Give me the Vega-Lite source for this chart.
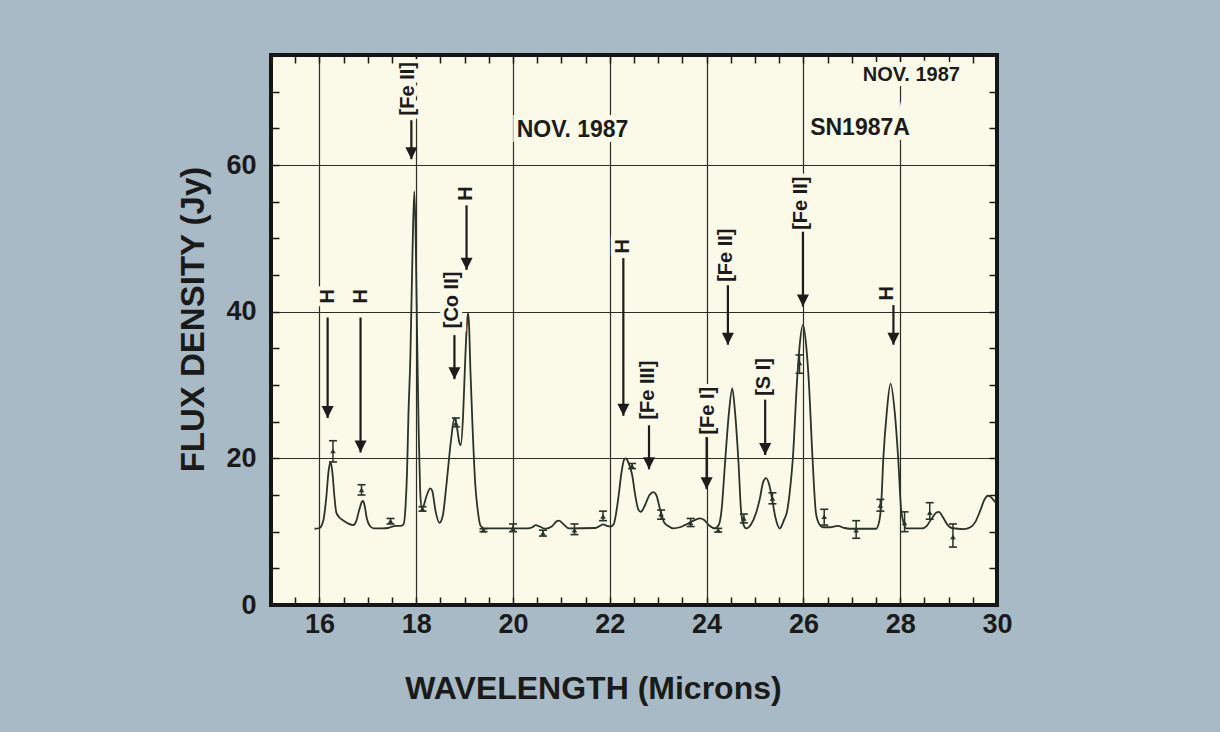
{
  "$schema": "https://vega.github.io/schema/vega-lite/v6.json",
  "autosize": {"type": "none"},
  "width": 726,
  "height": 550,
  "padding": {"left": 271, "top": 55, "right": 223, "bottom": 127},
  "background": "#a8bac6",
  "config": {
    "view": {"fill": "#fbf9e8", "stroke": "#151515", "strokeWidth": 4},
    "font": "Liberation Sans"
  },
  "datasets": {
    "spectrum": [
      {"w": 15.90, "f": 10.4}, {"w": 16.00, "f": 10.5}, {"w": 16.08, "f": 11.5}, {"w": 16.14, "f": 14.5},
      {"w": 16.19, "f": 18.3}, {"w": 16.23, "f": 19.5}, {"w": 16.27, "f": 18.0}, {"w": 16.31, "f": 14.8},
      {"w": 16.35, "f": 12.6}, {"w": 16.42, "f": 11.9}, {"w": 16.50, "f": 11.5}, {"w": 16.60, "f": 11.1},
      {"w": 16.70, "f": 10.9}, {"w": 16.76, "f": 11.4}, {"w": 16.82, "f": 12.9}, {"w": 16.88, "f": 14.1},
      {"w": 16.90, "f": 14.2}, {"w": 16.93, "f": 13.7}, {"w": 16.98, "f": 11.8}, {"w": 17.04, "f": 10.8},
      {"w": 17.12, "f": 10.45}, {"w": 17.30, "f": 10.45}, {"w": 17.42, "f": 10.5}, {"w": 17.50, "f": 10.7},
      {"w": 17.58, "f": 10.8}, {"w": 17.68, "f": 10.8}, {"w": 17.74, "f": 11.0}, {"w": 17.78, "f": 13.5},
      {"w": 17.81, "f": 18}, {"w": 17.84, "f": 26}, {"w": 17.88, "f": 34}, {"w": 17.92, "f": 47},
      {"w": 17.96, "f": 56.4}, {"w": 17.99, "f": 50}, {"w": 18.02, "f": 36}, {"w": 18.05, "f": 24},
      {"w": 18.08, "f": 16}, {"w": 18.11, "f": 13.2}, {"w": 18.15, "f": 13.5}, {"w": 18.22, "f": 15.0},
      {"w": 18.29, "f": 15.9}, {"w": 18.33, "f": 15.6}, {"w": 18.40, "f": 12.8}, {"w": 18.48, "f": 11.2},
      {"w": 18.55, "f": 12.2}, {"w": 18.62, "f": 16.1}, {"w": 18.72, "f": 22.5}, {"w": 18.79, "f": 25.5},
      {"w": 18.84, "f": 24.3}, {"w": 18.89, "f": 22.2}, {"w": 18.92, "f": 21.8}, {"w": 18.97, "f": 26},
      {"w": 19.01, "f": 33}, {"w": 19.05, "f": 38.5}, {"w": 19.07, "f": 39.8}, {"w": 19.09, "f": 38.5},
      {"w": 19.12, "f": 32}, {"w": 19.16, "f": 25}, {"w": 19.22, "f": 16.5}, {"w": 19.27, "f": 13},
      {"w": 19.33, "f": 10.8}, {"w": 19.40, "f": 10.45}, {"w": 20.30, "f": 10.45}, {"w": 20.40, "f": 10.6},
      {"w": 20.47, "f": 10.9}, {"w": 20.55, "f": 10.7}, {"w": 20.67, "f": 10.4}, {"w": 20.80, "f": 10.7},
      {"w": 20.90, "f": 11.4}, {"w": 20.95, "f": 11.5}, {"w": 21.03, "f": 11.1}, {"w": 21.16, "f": 10.45},
      {"w": 21.70, "f": 10.5}, {"w": 21.80, "f": 10.8}, {"w": 21.86, "f": 11.0}, {"w": 21.94, "f": 10.8},
      {"w": 22.02, "f": 10.7}, {"w": 22.08, "f": 11.0}, {"w": 22.13, "f": 12.5}, {"w": 22.18, "f": 14.8},
      {"w": 22.24, "f": 18.0}, {"w": 22.30, "f": 19.9}, {"w": 22.33, "f": 20.0}, {"w": 22.38, "f": 19.5},
      {"w": 22.46, "f": 17.8}, {"w": 22.53, "f": 14.8}, {"w": 22.59, "f": 13.0}, {"w": 22.64, "f": 12.7},
      {"w": 22.72, "f": 13.5}, {"w": 22.82, "f": 15.0}, {"w": 22.90, "f": 15.4}, {"w": 22.96, "f": 15.0},
      {"w": 23.04, "f": 13.0}, {"w": 23.12, "f": 11.3}, {"w": 23.20, "f": 10.8}, {"w": 23.31, "f": 10.45},
      {"w": 23.45, "f": 10.6}, {"w": 23.55, "f": 10.9}, {"w": 23.70, "f": 11.4}, {"w": 23.86, "f": 11.8},
      {"w": 23.95, "f": 11.6}, {"w": 24.06, "f": 10.8}, {"w": 24.17, "f": 10.45}, {"w": 24.25, "f": 10.9},
      {"w": 24.31, "f": 13.0}, {"w": 24.38, "f": 19.3}, {"w": 24.46, "f": 26.1}, {"w": 24.53, "f": 29.55},
      {"w": 24.59, "f": 26.1}, {"w": 24.66, "f": 19.3}, {"w": 24.71, "f": 13.0}, {"w": 24.76, "f": 11.0},
      {"w": 24.82, "f": 10.45}, {"w": 24.92, "f": 11.0}, {"w": 25.02, "f": 12.5}, {"w": 25.10, "f": 14.5},
      {"w": 25.17, "f": 16.8}, {"w": 25.23, "f": 17.3}, {"w": 25.29, "f": 16.5}, {"w": 25.35, "f": 14.6},
      {"w": 25.42, "f": 12.0}, {"w": 25.51, "f": 10.45}, {"w": 25.60, "f": 11.6}, {"w": 25.66, "f": 12.7},
      {"w": 25.72, "f": 15.5}, {"w": 25.78, "f": 19.8}, {"w": 25.87, "f": 30.7}, {"w": 25.92, "f": 35.2},
      {"w": 25.99, "f": 38.2}, {"w": 26.06, "f": 35.2}, {"w": 26.11, "f": 30.7}, {"w": 26.19, "f": 19.8},
      {"w": 26.26, "f": 12.5}, {"w": 26.33, "f": 11.0}, {"w": 26.40, "f": 10.6}, {"w": 26.55, "f": 10.6},
      {"w": 26.71, "f": 10.8}, {"w": 26.85, "f": 10.5}, {"w": 26.96, "f": 10.4}, {"w": 27.50, "f": 10.4},
      {"w": 27.56, "f": 11.2}, {"w": 27.61, "f": 14.0}, {"w": 27.65, "f": 19.8}, {"w": 27.72, "f": 26.1},
      {"w": 27.80, "f": 30.2}, {"w": 27.89, "f": 26.1}, {"w": 27.96, "f": 19.8}, {"w": 28.02, "f": 12.95},
      {"w": 28.08, "f": 11.0}, {"w": 28.12, "f": 10.45}, {"w": 28.45, "f": 10.45}, {"w": 28.55, "f": 10.8},
      {"w": 28.65, "f": 11.8}, {"w": 28.75, "f": 12.6}, {"w": 28.80, "f": 12.7}, {"w": 28.88, "f": 12.0},
      {"w": 28.97, "f": 11.0}, {"w": 29.06, "f": 10.5}, {"w": 29.31, "f": 10.35}, {"w": 29.45, "f": 10.6},
      {"w": 29.55, "f": 11.3}, {"w": 29.65, "f": 12.8}, {"w": 29.75, "f": 14.5}, {"w": 29.81, "f": 14.9},
      {"w": 29.86, "f": 14.8}, {"w": 29.93, "f": 14.3}, {"w": 29.97, "f": 14.0}
    ],
    "measured": [
      {"w": 16.28, "f": 21.0, "lo": 19.5, "hi": 22.4},
      {"w": 16.87, "f": 15.7, "lo": 15.0, "hi": 16.4},
      {"w": 17.47, "f": 11.45, "lo": 11.05, "hi": 11.8},
      {"w": 18.13, "f": 13.1, "lo": 12.8, "hi": 13.4},
      {"w": 18.82, "f": 24.8, "lo": 24.3, "hi": 25.5},
      {"w": 19.39, "f": 10.2, "lo": 10.0, "hi": 10.4},
      {"w": 20.00, "f": 10.45, "lo": 10.0, "hi": 11.05},
      {"w": 20.62, "f": 9.8, "lo": 9.4, "hi": 10.2},
      {"w": 21.27, "f": 10.2, "lo": 9.6, "hi": 11.05},
      {"w": 21.86, "f": 12.1, "lo": 11.5, "hi": 12.8},
      {"w": 22.46, "f": 18.95, "lo": 18.6, "hi": 19.3},
      {"w": 23.06, "f": 12.4, "lo": 11.7, "hi": 12.95},
      {"w": 23.67, "f": 11.2, "lo": 10.7, "hi": 11.8},
      {"w": 24.24, "f": 10.2, "lo": 9.95, "hi": 10.45},
      {"w": 24.77, "f": 11.8, "lo": 11.2, "hi": 12.4},
      {"w": 25.36, "f": 14.55, "lo": 13.8, "hi": 15.3},
      {"w": 25.92, "f": 33.0, "lo": 31.6, "hi": 34.1},
      {"w": 26.43, "f": 12.05, "lo": 10.9, "hi": 13.05},
      {"w": 27.09, "f": 10.2, "lo": 9.1, "hi": 11.5},
      {"w": 27.59, "f": 13.6, "lo": 12.8, "hi": 14.4},
      {"w": 28.09, "f": 11.2, "lo": 10.0, "hi": 12.7},
      {"w": 28.61, "f": 12.6, "lo": 11.7, "hi": 13.95},
      {"w": 29.09, "f": 9.3, "lo": 7.9, "hi": 11.05}
    ],
    "lines": [
      {"label": "H", "lx": 16.17, "ly": 42.1, "x": 16.17, "top": 39.2, "tip": 25.5},
      {"label": "H", "lx": 16.85, "ly": 42.1, "x": 16.85, "top": 39.2, "tip": 20.8},
      {"label": "[Fe II]", "lx": 17.83, "ly": 70.4, "x": 17.90, "top": 66.1, "tip": 60.8},
      {"label": "[Co II]", "lx": 18.74, "ly": 41.6, "x": 18.79, "top": 36.8, "tip": 30.8},
      {"label": "H", "lx": 19.03, "ly": 56.1, "x": 19.04, "top": 54.5, "tip": 45.7},
      {"label": "H", "lx": 22.28, "ly": 48.9, "x": 22.28, "top": 47.3, "tip": 25.8},
      {"label": "[Fe III]", "lx": 22.78, "ly": 29.3, "x": 22.81, "top": 24.5, "tip": 18.5},
      {"label": "[Fe I]", "lx": 24.03, "ly": 26.5, "x": 24.00, "top": 22.9, "tip": 15.8},
      {"label": "[Fe II]", "lx": 24.41, "ly": 47.7, "x": 24.44, "top": 43.6, "tip": 35.5},
      {"label": "[S I]", "lx": 25.19, "ly": 31.1, "x": 25.21, "top": 28.0, "tip": 20.45},
      {"label": "[Fe II]", "lx": 25.96, "ly": 54.8, "x": 25.99, "top": 50.9, "tip": 40.7},
      {"label": "H", "lx": 27.72, "ly": 42.5, "x": 27.86, "top": 40.9, "tip": 35.5}
    ],
    "captions": [
      {"x": 21.23, "y": 64.8, "text": "NOV. 1987"},
      {"x": 27.17, "y": 65.1, "text": "SN1987A"}
    ],
    "corner": [
      {"x": 28.23, "y": 72.3, "text": "NOV. 1987"}
    ]
  },
  "resolve": {"axis": {"x": "independent", "y": "independent"}},
  "layer": [
    {
      "data": {"name": "spectrum"},
      "mark": {"type": "line", "interpolate": "monotone", "color": "#28332a", "strokeWidth": 1.8},
      "encoding": {
        "x": {
          "field": "w", "type": "quantitative",
          "scale": {"domain": [15, 30], "nice": false, "zero": false},
          "axis": {
            "orient": "bottom",
            "values": [15, 15.5, 16, 16.5, 17, 17.5, 18, 18.5, 19, 19.5, 20, 20.5, 21, 21.5, 22, 22.5, 23, 23.5, 24, 24.5, 25, 25.5, 26, 26.5, 27, 27.5, 28, 28.5, 29, 29.5, 30],
            "labelExpr": "datum.value % 2 == 0 ? format(datum.value, 'd') : ''",
            "grid": true,
            "gridColor": "#2a2f28",
            "gridWidth": 1.2,
            "gridOpacity": {"condition": {"test": "datum.value % 2 == 0 && datum.value > 15 && datum.value < 30", "value": 1}, "value": 0},
            "domain": false,
            "tickSize": -8,
            "tickWidth": 1.5,
            "tickColor": "#1a1a1a",
            "labelFont": "Liberation Sans",
            "labelFontSize": 27,
            "labelFontWeight": "bold",
            "labelColor": "#1a1a1a",
            "labelPadding": 14,
            "labelFlush": false,
            "labelOverlap": false,
            "title": "WAVELENGTH (Microns)",
            "titleFont": "Liberation Sans",
            "titleFontSize": 32,
            "titleFontWeight": "bold",
            "titleColor": "#1a1a1a",
            "titleX": 322,
            "titleY": 68,
            "titleBaseline": "top",
            "titleAlign": "center"
          }
        },
        "y": {
          "field": "f", "type": "quantitative",
          "scale": {"domain": [0, 75], "nice": false, "zero": false},
          "axis": {
            "orient": "left",
            "values": [0, 5, 10, 15, 20, 25, 30, 35, 40, 45, 50, 55, 60, 65, 70, 75],
            "labelExpr": "datum.value % 20 == 0 ? format(datum.value, 'd') : ''",
            "grid": true,
            "gridColor": "#2a2f28",
            "gridWidth": 1.2,
            "gridOpacity": {"condition": {"test": "datum.value % 20 == 0 && datum.value > 0", "value": 1}, "value": 0},
            "domain": false,
            "tickSize": -8,
            "tickWidth": 1.5,
            "tickColor": "#1a1a1a",
            "labelFont": "Liberation Sans",
            "labelFontSize": 27,
            "labelFontWeight": "bold",
            "labelColor": "#1a1a1a",
            "labelPadding": 23,
            "labelFlush": false,
            "labelOverlap": false,
            "title": "FLUX DENSITY (Jy)",
            "titleFont": "Liberation Sans",
            "titleFontSize": 33,
            "titleFontWeight": "bold",
            "titleColor": "#1a1a1a",
            "titleAngle": 270,
            "titleX": -68,
            "titleY": 264,
            "titleAlign": "center",
            "titleBaseline": "alphabetic"
          }
        }
      }
    },
    {
      "data": {"name": "measured"},
      "mark": {"type": "rule", "color": "#28332a", "strokeWidth": 1.5},
      "encoding": {
        "x": {
          "field": "w", "type": "quantitative",
          "axis": {
            "orient": "top",
            "values": [15, 15.5, 16, 16.5, 17, 17.5, 18, 18.5, 19, 19.5, 20, 20.5, 21, 21.5, 22, 22.5, 23, 23.5, 24, 24.5, 25, 25.5, 26, 26.5, 27, 27.5, 28, 28.5, 29, 29.5, 30],
            "labels": false, "grid": false, "domain": false,
            "tickSize": -8, "tickWidth": 1.5, "tickColor": "#1a1a1a", "title": null
          }
        },
        "y": {
          "field": "lo", "type": "quantitative",
          "axis": {
            "orient": "right",
            "values": [0, 5, 10, 15, 20, 25, 30, 35, 40, 45, 50, 55, 60, 65, 70, 75],
            "labels": false, "grid": false, "domain": false,
            "tickSize": -8, "tickWidth": 1.5, "tickColor": "#1a1a1a", "title": null
          }
        },
        "y2": {"field": "hi"}
      }
    },
    {
      "data": {"name": "measured"},
      "mark": {"type": "point", "shape": "stroke", "size": 64, "filled": false, "stroke": "#28332a", "strokeWidth": 1.6, "opacity": 1},
      "encoding": {
        "x": {"field": "w", "type": "quantitative", "axis": null},
        "y": {"field": "lo", "type": "quantitative", "axis": null}
      }
    },
    {
      "data": {"name": "measured"},
      "mark": {"type": "point", "shape": "stroke", "size": 64, "filled": false, "stroke": "#28332a", "strokeWidth": 1.6, "opacity": 1},
      "encoding": {
        "x": {"field": "w", "type": "quantitative", "axis": null},
        "y": {"field": "hi", "type": "quantitative", "axis": null}
      }
    },
    {
      "data": {"name": "measured"},
      "mark": {"type": "point", "shape": "triangle-up", "size": 30, "filled": true, "color": "#28332a", "opacity": 1},
      "encoding": {
        "x": {"field": "w", "type": "quantitative", "axis": null},
        "y": {"field": "f", "type": "quantitative", "axis": null}
      }
    },
    {
      "data": {"name": "lines"},
      "mark": {"type": "text", "angle": 270, "align": "center", "baseline": "middle", "font": "Liberation Sans", "fontSize": 20, "fontWeight": "bold", "stroke": "#fbf9e8", "strokeWidth": 8, "fill": "#fbf9e8"},
      "encoding": {
        "x": {"field": "lx", "type": "quantitative", "axis": null},
        "y": {"field": "ly", "type": "quantitative", "axis": null},
        "text": {"field": "label"}
      }
    },
    {
      "data": {"name": "lines"},
      "mark": {"type": "text", "angle": 270, "align": "center", "baseline": "middle", "font": "Liberation Sans", "fontSize": 20, "fontWeight": "bold", "color": "#1c1c1c"},
      "encoding": {
        "x": {"field": "lx", "type": "quantitative", "axis": null},
        "y": {"field": "ly", "type": "quantitative", "axis": null},
        "text": {"field": "label"}
      }
    },
    {
      "data": {"name": "lines"},
      "mark": {"type": "rule", "color": "#1c1c1c", "strokeWidth": 2.2},
      "encoding": {
        "x": {"field": "x", "type": "quantitative", "axis": null},
        "y": {"field": "top", "type": "quantitative", "axis": null},
        "y2": {"field": "tip"}
      }
    },
    {
      "data": {"name": "lines"},
      "mark": {"type": "point", "shape": "M-0.5,-1L0.5,-1L0,0Z", "size": 576, "filled": true, "color": "#1c1c1c", "opacity": 1},
      "encoding": {
        "x": {"field": "x", "type": "quantitative", "axis": null},
        "y": {"field": "tip", "type": "quantitative", "axis": null}
      }
    },
    {
      "data": {"name": "captions"},
      "mark": {"type": "text", "align": "center", "baseline": "middle", "font": "Liberation Sans", "fontSize": 23, "fontWeight": "bold", "stroke": "#fbf9e8", "strokeWidth": 10, "fill": "#fbf9e8"},
      "encoding": {
        "x": {"field": "x", "type": "quantitative", "axis": null},
        "y": {"field": "y", "type": "quantitative", "axis": null},
        "text": {"field": "text"}
      }
    },
    {
      "data": {"name": "captions"},
      "mark": {"type": "text", "align": "center", "baseline": "middle", "font": "Liberation Sans", "fontSize": 23, "fontWeight": "bold", "color": "#1c1c1c"},
      "encoding": {
        "x": {"field": "x", "type": "quantitative", "axis": null},
        "y": {"field": "y", "type": "quantitative", "axis": null},
        "text": {"field": "text"}
      }
    },
    {
      "data": {"name": "corner"},
      "mark": {"type": "text", "align": "center", "baseline": "middle", "font": "Liberation Sans", "fontSize": 20, "fontWeight": "bold", "stroke": "#fbf9e8", "strokeWidth": 10, "fill": "#fbf9e8"},
      "encoding": {
        "x": {"field": "x", "type": "quantitative", "axis": null},
        "y": {"field": "y", "type": "quantitative", "axis": null},
        "text": {"field": "text"}
      }
    },
    {
      "data": {"name": "corner"},
      "mark": {"type": "text", "align": "center", "baseline": "middle", "font": "Liberation Sans", "fontSize": 20, "fontWeight": "bold", "color": "#1c1c1c"},
      "encoding": {
        "x": {"field": "x", "type": "quantitative", "axis": null},
        "y": {"field": "y", "type": "quantitative", "axis": null},
        "text": {"field": "text"}
      }
    }
  ]
}
